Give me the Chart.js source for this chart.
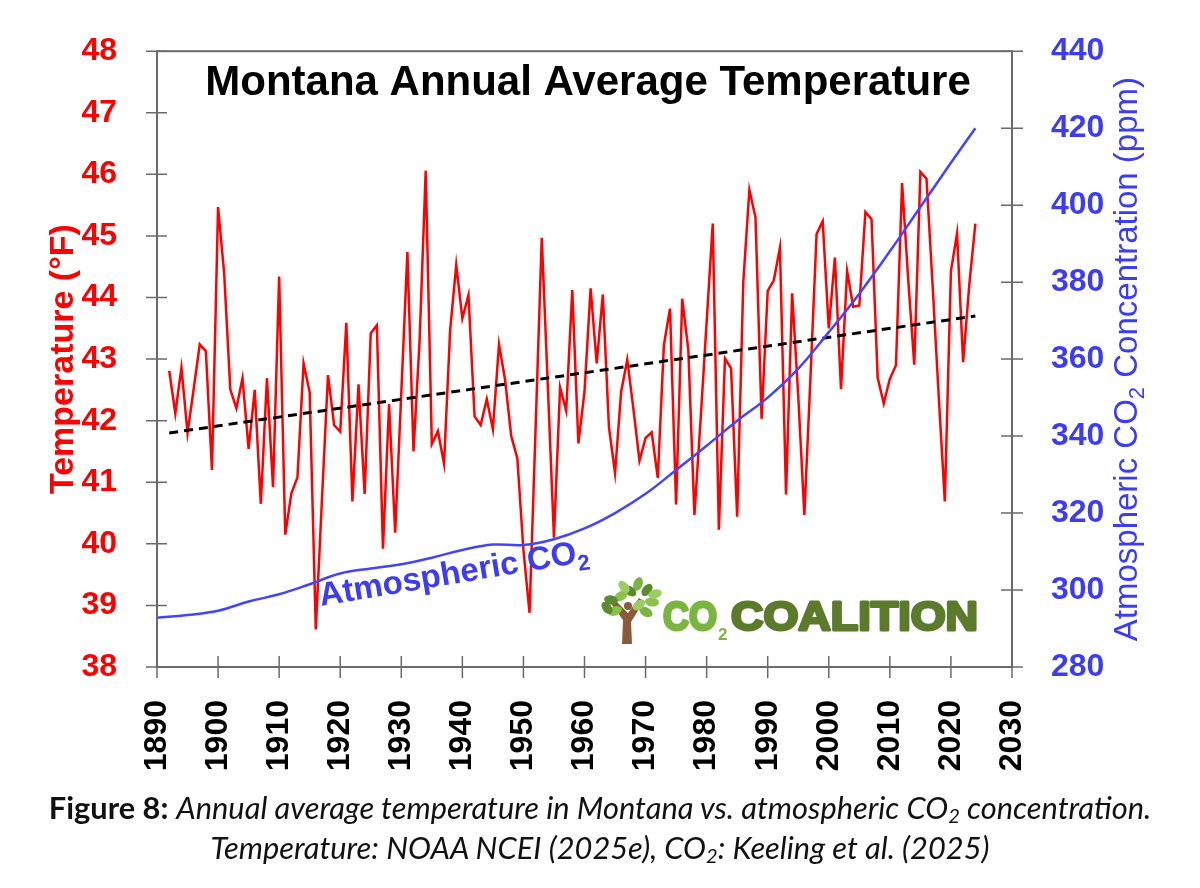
<!DOCTYPE html>
<html>
<head>
<meta charset="utf-8">
<title>Montana Annual Average Temperature</title>
<script src="https://cdn.jsdelivr.net/npm/chart.js@4.4.1/dist/chart.umd.min.js"></script>
<style>
  body { margin: 0; background: #fff; }
  #wrap { position: relative; width: 1200px; height: 888px; }
  #grafico { position: absolute; left: 0; top: 0; }
  #caption {
    position: absolute; left: 0; top: 788px; width: 1200px;
    text-align: center; font-family: Lato, "Open Sans", sans-serif;
    font-size: 28px; line-height: 40px; color: #111;
  }
  #caption i { font-style: italic; }
  #caption b { font-style: normal; }
  #caption sub { font-size: 0.65em; vertical-align: -0.2em; line-height: 0; }
</style>
</head>
<body>
<div id="wrap">
  <canvas id="grafico" width="1200" height="888"></canvas>
  <div id="caption">
    <div id="cap1"><b>Figure 8:</b> <i>Annual average temperature in Montana vs. atmospheric CO<sub>2</sub> concentration.</i></div>
    <div id="cap2"><i>Temperature: NOAA NCEI (2025e), CO<sub>2</sub>: Keeling et al. (2025)</i></div>
  </div>
</div>
<script>
// Datos
const anios = [];
for (let a = 1892; a <= 2024; a++) anios.push(a);

const temperaturas = [
  42.81, 42.12, 42.86, 41.80, 42.51, 43.24, 43.13, 41.20, 45.47, 44.39, // 1892-1901
  42.51, 42.20, 42.69, 41.54, 42.50, 40.65, 42.69, 40.92, 44.34, 40.15, // 1902-1911
  40.82, 41.08, 42.93, 42.46, 38.61, 40.70, 42.74, 41.93, 41.82, 43.59, // 1912-1921
  40.69, 42.59, 40.81, 43.42, 43.55, 39.92, 42.27, 40.18, 42.45, 44.74, // 1922-1931
  41.50, 43.30, 46.06, 41.62, 41.83, 41.30, 43.47, 44.53, 43.66, 44.04, // 1932-1941
  42.07, 41.93, 42.35, 41.86, 43.24, 42.66, 41.75, 41.39, 39.90, 38.88, // 1942-1951
  41.90, 44.97, 42.55, 40.10, 42.54, 42.16, 44.12, 41.63, 42.47, 44.15, // 1952-1961
  42.93, 44.05, 41.90, 41.15, 42.47, 42.99, 42.20, 41.35, 41.72, 41.81, // 1962-1971
  41.07, 43.23, 43.82, 40.64, 43.98, 43.15, 40.47, 42.00, 43.60, 45.20, // 1972-1981
  40.23, 43.01, 42.85, 40.44, 44.25, 45.75, 45.30, 42.03, 44.11, 44.28, // 1982-1991
  44.81, 40.80, 44.07, 42.40, 40.47, 42.70, 45.03, 45.24, 43.50, 44.65, // 1992-2001
  42.51, 44.43, 43.85, 43.87, 45.39, 45.27, 42.70, 42.28, 42.68, 42.90, // 2002-2011
  45.86, 44.30, 42.91, 46.04, 45.93, 44.20, 42.40, 40.69, 44.43, 45.04, // 2012-2021
  42.95, 44.20, 45.20                                                   // 2022-2024
];

// Tendencia lineal (extremos)
const tendenciaAnios = [1892, 2024];
const tendenciaValores = [41.80, 43.70];

// CO2 atmosferico (ppm)
const co2Anios = [1890, 1895, 1900, 1905, 1910, 1915, 1920, 1925, 1930, 1935, 1940, 1945, 1950, 1955,
  1960, 1965, 1970, 1975, 1980, 1985, 1990, 1995, 2000, 2005, 2010, 2015, 2020, 2024];
const co2Valores = [292.8, 293.5, 294.6, 297.0, 298.9, 301.5, 304.3, 305.6, 306.7, 308.4, 310.4, 311.8, 311.7, 313.2,
  316.0, 320.0, 325.0, 331.2, 337.5, 344.0, 350.0, 357.5, 367.0, 377.0, 388.0, 399.5, 411.0, 420.0];

// Ejes
const tempMin = 38, tempMax = 48, tempPaso = 1;
const co2Min = 280, co2Max = 440, co2Paso = 20;
const anioMin = 1890, anioMax = 2030, anioPaso = 10;

const FUENTE = '"Liberation Sans", Arial, sans-serif';
const ROJO = "#ff0000";
const AZUL = "#3c3cf2";
const GRIS = "#6b6b6b";

// marco y marcas de los ejes
const marcoPlugin = {
  id: "marco",
  afterDatasetsDraw(chart) {
    const { ctx, chartArea: ca, scales } = chart;
    ctx.save();
    ctx.strokeStyle = GRIS;
    ctx.lineWidth = 2;
    ctx.strokeRect(ca.left, ca.top, ca.right - ca.left, ca.bottom - ca.top);
    ctx.lineWidth = 1.5;
    ctx.beginPath();
    scales.y.ticks.forEach((t) => {
      const p = scales.y.getPixelForValue(t.value);
      ctx.moveTo(ca.left - 11, p); ctx.lineTo(ca.left + 10, p);
    });
    scales.y2.ticks.forEach((t) => {
      const p = scales.y2.getPixelForValue(t.value);
      ctx.moveTo(ca.right - 11, p); ctx.lineTo(ca.right + 11, p);
    });
    scales.x.ticks.forEach((t) => {
      const p = scales.x.getPixelForValue(t.value);
      ctx.moveTo(p, ca.bottom - 11); ctx.lineTo(p, ca.bottom + 11);
    });
    ctx.stroke();
    ctx.restore();
  },
};

// texto con subindice "2" en la posicion actual
function textoConSub(ctx, partes, x, y, fuente, fuenteSub, bajada) {
  let cx = x;
  partes.forEach(([txt, sub]) => {
    ctx.font = sub ? fuenteSub : fuente;
    ctx.fillText(txt, cx, y + (sub ? bajada : 0));
    cx += ctx.measureText(txt).width;
  });
  return cx - x;
}

function anchoConSub(ctx, partes, fuente, fuenteSub) {
  let w = 0;
  partes.forEach(([txt, sub]) => {
    ctx.font = sub ? fuenteSub : fuente;
    w += ctx.measureText(txt).width;
  });
  return w;
}

// texto grueso ajustado a un ancho dado
function textoGrueso(ctx, txt, x, y, ancho, color) {
  const w = ctx.measureText(txt).width;
  ctx.save();
  ctx.translate(x, y);
  ctx.scale(ancho / w, 1);
  ctx.fillStyle = color;
  ctx.strokeStyle = color;
  ctx.lineWidth = 3;
  ctx.lineJoin = "round";
  ctx.strokeText(txt, 0, 0);
  ctx.fillText(txt, 0, 0);
  ctx.restore();
}

function dibujarLogo(ctx) {
  ctx.save();
  // arbol
  ctx.fillStyle = "#8a5a3b";
  ctx.beginPath();
  ctx.moveTo(622, 644); ctx.lineTo(632, 644); ctx.lineTo(631, 622);
  ctx.lineTo(644, 601); ctx.lineTo(639, 598); ctx.lineTo(628, 613);
  ctx.lineTo(616, 601); ctx.lineTo(612, 605); ctx.lineTo(623, 620);
  ctx.closePath();
  ctx.fill();
  ctx.beginPath(); ctx.arc(628, 606, 4, 0, Math.PI * 2); ctx.fill();
  const hojas = [
    [638, 584, -1.2, "#7cb342"], [630, 591, 0.6, "#5d8a2e"], [647, 590, -0.9, "#5d8a2e"],
    [652, 602, 0.1, "#8bc34a"], [621, 596, -0.5, "#8bc34a"], [611, 600, 0.2, "#5d8a2e"],
    [615, 611, -0.4, "#8bc34a"], [646, 612, 0.5, "#7cb342"], [639, 605, -0.6, "#9ccc65"],
    [607, 608, 0.9, "#5d8a2e"], [655, 594, -0.3, "#9ccc65"], [624, 587, 0.9, "#9ccc65"],
  ];
  hojas.forEach(([x, y, r, c]) => {
    ctx.fillStyle = c;
    ctx.beginPath();
    ctx.ellipse(x, y, 7, 4.5, r, 0, Math.PI * 2);
    ctx.fill();
  });
  // texto
  ctx.textBaseline = "alphabetic";
  ctx.textAlign = "left";
  ctx.font = "bold 41px " + FUENTE;
  textoGrueso(ctx, "CO", 663, 630, 54, "#7ab540");
  ctx.font = "bold 17px " + FUENTE;
  ctx.fillStyle = "#7ab540";
  ctx.fillText("2", 718, 640);
  ctx.font = "bold 41px " + FUENTE;
  textoGrueso(ctx, "COALITION", 731, 630, 247, "#5b7a2b");
  ctx.restore();
}

// titulos y rotulos
const textosPlugin = {
  id: "textos",
  afterDraw(chart) {
    const { ctx, chartArea: ca } = chart;
    const cy = (ca.top + ca.bottom) / 2;
    ctx.save();
    ctx.textBaseline = "alphabetic";

    // titulo dentro del grafico
    ctx.fillStyle = "#000";
    ctx.font = "bold 42px " + FUENTE;
    ctx.textAlign = "center";
    ctx.fillText("Montana Annual Average Temperature", 588, 95);

    // titulo eje izquierdo
    ctx.save();
    ctx.translate(73, cy);
    ctx.rotate(-Math.PI / 2);
    ctx.fillStyle = ROJO;
    ctx.font = "bold 34px " + FUENTE;
    ctx.fillText("Temperature (°F)", 0, 0);
    ctx.restore();

    // titulo eje derecho
    ctx.textAlign = "left";
    const partes = [["Atmospheric CO", false], ["2", true], [" Concentration (ppm)", false]];
    const f = "33px " + FUENTE, fs = "22px " + FUENTE;
    const wt = anchoConSub(ctx, partes, f, fs);
    ctx.save();
    ctx.translate(1137, cy);
    ctx.rotate(-Math.PI / 2);
    ctx.fillStyle = AZUL;
    textoConSub(ctx, partes, -wt / 2, 0, f, fs, 7);
    ctx.restore();

    // rotulo de la curva de CO2
    ctx.save();
    ctx.translate(321, 606);
    ctx.rotate(-9.5 * Math.PI / 180);
    ctx.fillStyle = AZUL;
    textoConSub(ctx, [["Atmospheric CO", false], ["2", true]], 0, 0, "bold 33px " + FUENTE, "bold 22px " + FUENTE, 8);
    ctx.restore();

    dibujarLogo(ctx);
    ctx.restore();
  },
};

document.addEventListener("DOMContentLoaded", () => {
  const canvas = document.querySelector("#grafico");
  const ctx = canvas.getContext("2d");

  const puntosTemp = anios.map((a, i) => ({ x: a, y: temperaturas[i] }));
  const puntosTend = tendenciaAnios.map((a, i) => ({ x: a, y: tendenciaValores[i] }));
  const puntosCo2 = co2Anios.map((a, i) => ({ x: a, y: co2Valores[i] }));

  new Chart(ctx, {
    type: "line",
    data: {
      datasets: [
        {
          label: "Atmospheric CO2",
          data: puntosCo2,
          yAxisID: "y2",
          borderColor: "#4444ff",
          borderWidth: 2.5,
          pointRadius: 0,
          tension: 0.4,
        },
        {
          label: "Trend",
          data: puntosTend,
          yAxisID: "y",
          borderColor: "#000",
          borderWidth: 3,
          borderDash: [9, 6],
          pointRadius: 0,
        },
        {
          label: "Temperature",
          data: puntosTemp,
          yAxisID: "y",
          borderColor: ROJO,
          borderWidth: 2.5,
          pointRadius: 0,
          tension: 0,
        },
      ],
    },
    options: {
      responsive: false,
      animation: false,
      devicePixelRatio: 1,
      layout: { padding: { top: 50, left: 0, right: 0, bottom: 0 } },
      plugins: {
        legend: { display: false },
        tooltip: { enabled: false },
      },
      scales: {
        x: {
          type: "linear",
          min: anioMin,
          max: anioMax,
          grid: { display: false },
          border: { display: false },
          ticks: {
            stepSize: anioPaso,
            autoSkip: false,
            minRotation: 90,
            maxRotation: 90,
            padding: 25,
            color: "#000",
            font: { family: FUENTE, size: 32, weight: "bold" },
            callback: (v) => String(v),
          },
          afterFit: (s) => { s.height = 221; },
        },
        y: {
          position: "left",
          min: tempMin,
          max: tempMax,
          grid: { display: false },
          border: { display: false },
          ticks: {
            stepSize: tempPaso,
            padding: 32,
            color: ROJO,
            font: { family: FUENTE, size: 32, weight: "bold" },
          },
          afterFit: (s) => { s.width = 157; },
        },
        y2: {
          position: "right",
          min: co2Min,
          max: co2Max,
          grid: { display: false },
          border: { display: false },
          ticks: {
            stepSize: co2Paso,
            padding: 31,
            color: AZUL,
            font: { family: FUENTE, size: 32, weight: "bold" },
          },
          afterFit: (s) => { s.width = 188; },
        },
      },
    },
    plugins: [marcoPlugin, textosPlugin],
  });

  // ajusta el pie de figura al ancho del original
  const cap = document.querySelector("#caption");
  const l1 = document.querySelector("#cap1");
  const span = document.createElement("span");
  span.innerHTML = l1.innerHTML;
  l1.innerHTML = "";
  l1.appendChild(span);
  const ancho = span.getBoundingClientRect().width;
  cap.style.fontSize = (28 * 1103 / ancho).toFixed(2) + "px";
});
</script>
</body>
</html>
